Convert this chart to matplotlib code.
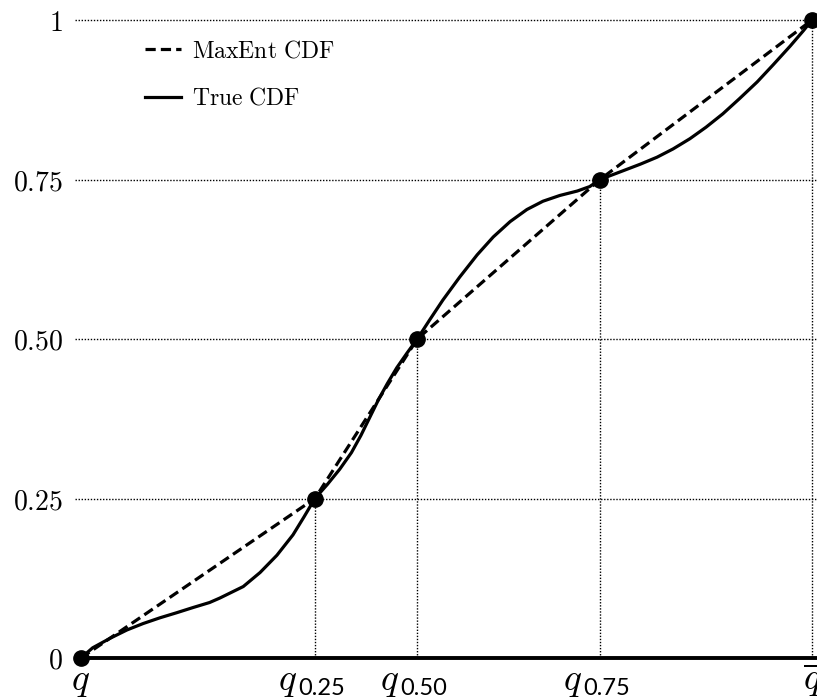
"""MaxEnt CDF vs true CDF through the quartile points."""
import matplotlib
matplotlib.use("Agg")
import matplotlib.pyplot as plt

plt.rcParams["mathtext.fontset"] = "cm"
plt.rcParams["font.family"] = "serif"
plt.rcParams["font.serif"] = ["DejaVu Serif"]

# ── data ──────────────────────────────────────────────────────────────────────
Q_POS = [0.0, 0.32, 0.46, 0.71, 1.0]          # q_, q0.25, q0.50, q0.75, q-bar
Q_PROB = [0.0, 0.25, 0.50, 0.75, 1.0]
Q_SUBS = ["", "0.25", "0.50", "0.75", ""]
Y_LABELS = [r"$0$", r"$0.25$", r"$0.50$", r"$0.75$", r"$1$"]

# true CDF
TRUE_X = [0.0, 0.016, 0.040, 0.063, 0.085, 0.108, 0.131, 0.153, 0.176, 0.19,
          0.222, 0.245, 0.268, 0.29, 0.305, 0.32, 0.337, 0.354, 0.370, 0.383,
          0.395, 0.407, 0.419, 0.432, 0.446, 0.46, 0.477, 0.495, 0.518, 0.542,
          0.564, 0.587, 0.610, 0.632, 0.655, 0.679, 0.696, 0.71, 0.733, 0.765,
          0.788, 0.81, 0.833, 0.855, 0.878, 0.901, 0.925, 0.947, 0.970, 0.988,
          1.0]
TRUE_Y = [0.0, 0.016, 0.031, 0.044, 0.054, 0.063, 0.071, 0.079, 0.087, 0.094,
          0.112, 0.134, 0.161, 0.193, 0.221, 0.25, 0.272, 0.296, 0.322, 0.349,
          0.377, 0.405, 0.430, 0.455, 0.478, 0.50, 0.530, 0.561, 0.597, 0.632,
          0.660, 0.684, 0.703, 0.716, 0.725, 0.732, 0.739, 0.75, 0.760, 0.774,
          0.785, 0.798, 0.814, 0.832, 0.853, 0.877, 0.903, 0.930, 0.959, 0.983,
          1.0]

LW = 2.3


def main():
    fig = plt.figure(figsize=(8.17, 6.98), dpi=100)
    ax = fig.add_axes([0.0991, 0.0573, 0.8948, 0.9140])
    ax.set_xlim(0, 1)
    ax.set_ylim(0, 1)

    # dotted guides
    for p in Q_PROB[1:]:
        ax.plot([-0.008, 1.01], [p, p], color="black", lw=1.0, ls=(0, (1, 1.2)),
                clip_on=False, zorder=1)
    for x, p in zip(Q_POS[1:], Q_PROB[1:]):
        ax.plot([x, x], [0, p], color="black", lw=1.0, ls=(0, (1, 1.2)),
                clip_on=False, zorder=1)

    # x axis
    ax.plot([0, 1.01], [0, 0], color="black", lw=LW + 0.5, clip_on=False,
            solid_capstyle="butt", zorder=2)

    ax.plot(Q_POS, Q_PROB, color="black", lw=LW, ls=(0, (3.2, 1.6)),
            label=r"$\mathrm{MaxEnt\ CDF}$", clip_on=False, zorder=3)
    ax.plot(TRUE_X, TRUE_Y, color="black", lw=LW, label=r"$\mathrm{True\ CDF}$",
            clip_on=False, zorder=4, solid_joinstyle="round")
    ax.plot(Q_POS, Q_PROB, "o", color="black", ms=11, clip_on=False, zorder=5)

    for s in ax.spines.values():
        s.set_visible(False)
    ax.set_yticks(Q_PROB, Y_LABELS, fontsize=20)
    ax.tick_params(axis="y", length=0, pad=13)
    ax.set_xticks([])

    # x labels: italic q with a sans subscript
    for i, (x, sub) in enumerate(zip(Q_POS, Q_SUBS)):
        if sub:
            ax.annotate(r"$q$", xy=(x, 0), xytext=(-18, -32),
                        textcoords="offset pixels", ha="right", va="baseline",
                        fontsize=27, annotation_clip=False)
            ax.annotate(sub, xy=(x, 0), xytext=(-17, -37),
                        textcoords="offset pixels", ha="left", va="baseline",
                        fontsize=17, family="Lato", annotation_clip=False)
        else:
            lab = r"$q$" if i == 0 else r"$\overline{q}$"
            ax.annotate(lab, xy=(x, 0), xytext=(0, -32),
                        textcoords="offset pixels", ha="center", va="baseline",
                        fontsize=27, annotation_clip=False)

    ax.legend(loc="upper left", bbox_to_anchor=(0.075, 0.985), frameon=False,
              fontsize=17, handlelength=1.5, handletextpad=0.5, labelspacing=1.05,
              borderaxespad=0)

    fig.savefig("out.png", dpi=100)
    plt.close(fig)


if __name__ == "__main__":
    main()
